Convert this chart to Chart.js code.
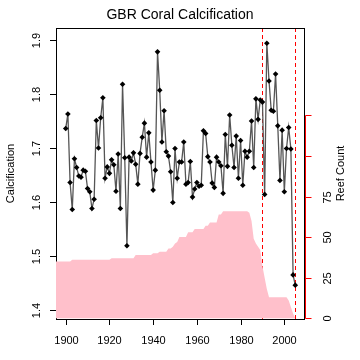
<!DOCTYPE html>
<html><head><meta charset="utf-8">
<script src="https://cdn.jsdelivr.net/npm/chart.js@4.4.1/dist/chart.umd.min.js"></script>
<style>html,body{margin:0;padding:0;background:#fff;}#wrap{width:360px;height:360px;}</style>
</head><body><div id="wrap"><canvas id="c" width="360" height="360"></canvas></div>
<script>
const years = [1900,1901,1902,1903,1904,1905,1906,1907,1908,1909,1910,1911,1912,1913,1914,1915,1916,1917,1918,1919,
1920,1921,1922,1923,1924,1925,1926,1927,1928,1929,1930,1931,1932,1933,1934,1935,1936,1937,1938,1939,
1940,1941,1942,1943,1944,1945,1946,1947,1948,1949,1950,1951,1952,1953,1954,1955,1956,1957,1958,1959,
1960,1961,1962,1963,1964,1965,1966,1967,1968,1969,1970,1971,1972,1973,1974,1975,1976,1977,1978,1979,
1980,1981,1982,1983,1984,1985,1986,1987,1988,1989,1990,1991,1992,1993,1994,1995,1996,1997,1998,1999,
2000,2001,2002,2003,2004,2005];
const calcification = [1.736,1.763,1.636,1.586,1.680,1.664,1.648,1.646,1.659,1.657,1.625,1.619,1.588,1.605,1.751,1.700,1.756,1.793,1.644,1.665,
1.653,1.678,1.669,1.620,1.689,1.588,1.818,1.682,1.519,1.683,1.676,1.691,1.670,1.633,1.690,1.720,1.746,1.683,1.728,1.674,
1.622,1.659,1.878,1.807,1.711,1.769,1.693,1.685,1.656,1.599,1.699,1.644,1.674,1.674,1.711,1.633,1.636,1.675,1.609,1.624,
1.636,1.629,1.631,1.732,1.727,1.684,1.674,1.635,1.627,1.683,1.674,1.667,1.616,1.725,1.666,1.761,1.705,1.664,1.722,1.644,
1.714,1.631,1.694,1.683,1.694,1.750,1.664,1.791,1.753,1.789,1.785,1.614,1.894,1.824,1.770,1.768,1.837,1.741,1.640,1.733,
1.619,1.699,1.738,1.698,1.465,1.446];
const reefYears = [1895,1896,1897,1898,1899,1900,1901,1902,1903,1904,1905,1906,1907,1908,1909,1910,1911,1912,1913,1914,1915,1916,1917,1918,1919,
1920,1921,1922,1923,1924,1925,1926,1927,1928,1929,1930,1931,1932,1933,1934,1935,1936,1937,1938,1939,
1940,1941,1942,1943,1944,1945,1946,1947,1948,1949,1950,1951,1952,1953,1954,1955,1956,1957,1958,1959,
1960,1961,1962,1963,1964,1965,1966,1967,1968,1969,1970,1971,1972,1973,1974,1975,1976,1977,1978,1979,
1980,1981,1982,1983,1984,1985,1986,1987,1988,1989,1990,1991,1992,1993,1994,1995,1996,1997,1998,1999,
2000,2001,2002,2003,2004,2005];
const reefCount = [35,35,35,35,35,35,35,35,36,36,36,36,36,36,36,36,36,36,36,36,36,36,36,36,36,
36,37,37,37,37,37,37,37,37,37,37,37,39,39,39,39,39,39,39,39,
40,40,40,41,41,41,41,43,43,44,46,47,50,50,50,50,53,53,53,55,
55,55,55,55,57,57,59,59,59,59,64,64,66,66,66,66,66,66,66,66,
66,66,66,66,65,60,49,46,44,42,32,25,18,13,13,13,13,13,13,13,
13,13,11,7,3,0];
const xTicks = [1900,1920,1940,1960,1980,2000];
const yTicks = [1.4,1.5,1.6,1.7,1.8,1.9];
const reefTicks = [0,25,50,75,100,125];
const reefTickLabels = ['0','25','50','75','',''];
const markerYears = [1990,2005];
const titleText = 'GBR Coral Calcification';
const yTitle = 'Calcification';
const y2Title = 'Reef Count';

const FONT = '"Liberation Sans", Arial, sans-serif';

const decor = {
  id: 'decor',
  beforeDatasetsDraw(chart) {
    const ctx = chart.ctx, a = chart.chartArea, xs = chart.scales.x;
    ctx.save();
    // dashed markers
    ctx.strokeStyle = '#ff0000';
    ctx.lineWidth = 1;
    ctx.setLineDash([4,3]);
    markerYears.forEach(yr => {
      const px = Math.round(xs.getPixelForValue(yr)) + 0.5;
      ctx.beginPath(); ctx.moveTo(px, a.top); ctx.lineTo(px, a.bottom); ctx.stroke();
    });
    ctx.setLineDash([]);
    // box
    ctx.strokeStyle = '#000';
    ctx.strokeRect(a.left + 0.5, a.top + 0.5, a.right - a.left, a.bottom - a.top);
    ctx.restore();
  },
  afterDatasetsDraw(chart) {
    const ctx = chart.ctx, a = chart.chartArea;
    const xs = chart.scales.x, ys = chart.scales.y, y2 = chart.scales.y2;
    ctx.save();
    ctx.font = '11px ' + FONT;
    ctx.fillStyle = '#000';
    ctx.strokeStyle = '#000';
    ctx.lineWidth = 1;
    // bottom line
    ctx.beginPath(); ctx.moveTo(a.left, a.bottom + 0.5); ctx.lineTo(a.right + 1, a.bottom + 0.5); ctx.stroke();
    // x ticks
    ctx.textAlign = 'center'; ctx.textBaseline = 'middle';
    xTicks.forEach(t => {
      const px = Math.round(xs.getPixelForValue(t)) + 0.5;
      ctx.beginPath(); ctx.moveTo(px, a.bottom); ctx.lineTo(px, a.bottom + 6); ctx.stroke();
      ctx.fillText(String(t), px, a.bottom + 22);
    });
    // y ticks (left)
    yTicks.forEach(t => {
      const py = Math.round(ys.getPixelForValue(t)) + 0.5;
      ctx.beginPath(); ctx.moveTo(a.left - 6, py); ctx.lineTo(a.left, py); ctx.stroke();
      ctx.save(); ctx.translate(37, py); ctx.rotate(-Math.PI/2);
      ctx.fillText(t.toFixed(1), 0, 0); ctx.restore();
    });
    // right red axis
    const top = Math.round(y2.getPixelForValue(reefTicks[reefTicks.length-1])) + 0.5;
    const bot = Math.round(y2.getPixelForValue(reefTicks[0])) + 0.5;
    const rx = a.right + 1.5;
    ctx.strokeStyle = '#ff0000';
    ctx.beginPath(); ctx.moveTo(rx, top); ctx.lineTo(rx, bot); ctx.stroke();
    reefTicks.forEach((t, i) => {
      const py = Math.round(y2.getPixelForValue(t)) + 0.5;
      ctx.beginPath(); ctx.moveTo(rx, py); ctx.lineTo(rx + 6, py); ctx.stroke();
      if (reefTickLabels[i]) {
        ctx.save(); ctx.translate(328, py); ctx.rotate(-Math.PI/2);
        ctx.fillText(reefTickLabels[i], 0, 0); ctx.restore();
      }
    });
    // axis titles
    const cy = (a.top + a.bottom) / 2;
    ctx.save(); ctx.translate(11, cy); ctx.rotate(-Math.PI/2); ctx.fillText(yTitle, 0, 0); ctx.restore();
    ctx.save(); ctx.translate(341, cy); ctx.rotate(-Math.PI/2); ctx.fillText(y2Title, 0, 0); ctx.restore();
    // title
    ctx.font = '14px ' + FONT;
    ctx.fillText(titleText, (a.left + a.right) / 2, 15);
    ctx.restore();
  }
};

new Chart(document.getElementById('c'), {
  type: 'line',
  data: {
    datasets: [
      {
        label: 'Calcification',
        data: years.map((yr, i) => ({x: yr, y: calcification[i]})),
        yAxisID: 'y',
        borderColor: '#555',
        borderWidth: 1.3,
        pointStyle: 'rectRot',
        pointRadius: 2.8,
        pointBackgroundColor: '#000',
        pointBorderWidth: 0,
        fill: false,
        tension: 0
      },
      {
        label: 'Reef Count',
        data: reefYears.map((yr, i) => ({x: yr, y: reefCount[i]})),
        yAxisID: 'y2',
        borderWidth: 0,
        borderColor: 'rgba(0,0,0,0)',
        backgroundColor: '#ffc0cb',
        pointRadius: 0,
        fill: 'origin',
        tension: 0
      }
    ]
  },
  options: {
    responsive: false,
    animation: false,
    devicePixelRatio: 1,
    layout: { padding: { left: 56, right: 56, top: 28, bottom: 41 } },
    plugins: { legend: { display: false }, tooltip: { enabled: false }, title: { display: false } },
    scales: {
      x: { type: 'linear', min: 1895.56, max: 2009.0, display: false },
      y: { type: 'linear', min: 1.3833, max: 1.9222, display: false },
      y2: { type: 'linear', position: 'right', min: -0.43, max: 178.8, display: false }
    }
  },
  plugins: [decor]
});
</script>
</body></html>
